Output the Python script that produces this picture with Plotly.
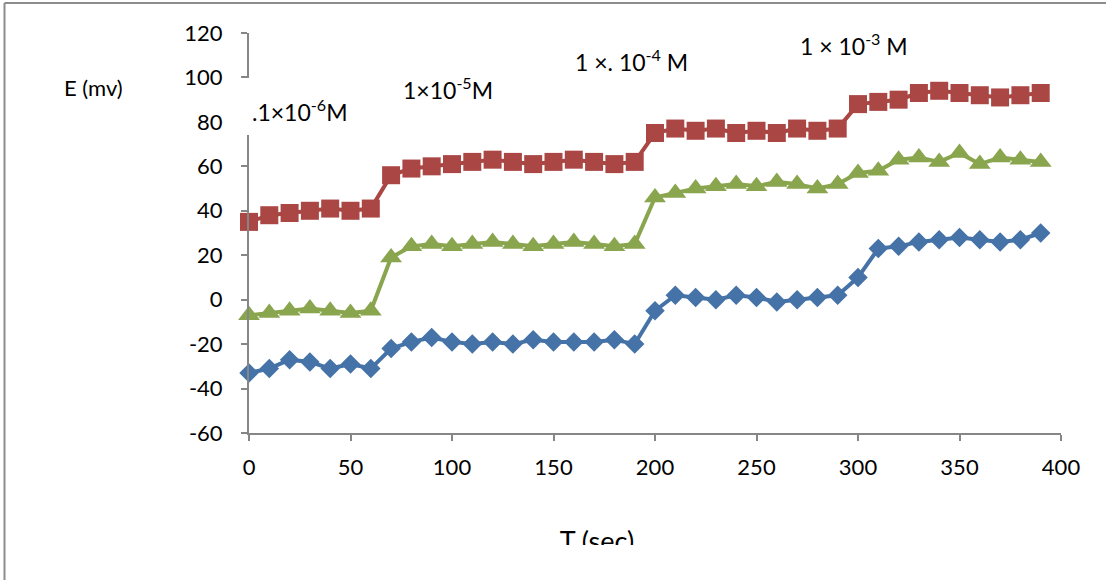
import plotly.graph_objects as go

# ---- data ----
t_sec = [0, 10, 20, 30, 40, 50, 60, 70, 80, 90, 100, 110, 120, 130, 140, 150, 160, 170, 180, 190,
         200, 210, 220, 230, 240, 250, 260, 270, 280, 290, 300, 310, 320, 330, 340, 350, 360, 370, 380, 390]
blue_E = [-33, -31, -27, -28, -31, -29, -31,
          -22, -19, -17, -19, -20, -19, -20, -18, -19, -19, -19, -18, -20,
          -5, 2, 1, 0, 2, 1, -1, 0, 1, 2,
          10, 23, 24, 26, 27, 28, 27, 26, 27, 30]
red_E = [35, 38, 39, 40, 41, 40, 41,
         56, 59, 60, 61, 62, 63, 62, 61, 62, 63, 62, 61, 62,
         75, 77, 76, 77, 75, 76, 75, 77, 76, 77,
         88, 89, 90, 93, 94, 93, 92, 91, 92, 93]
green_E = [-7, -6, -5, -4, -5, -6, -5,
           19, 24, 25, 24, 25, 26, 25, 24, 25, 26, 25, 24, 25,
           46, 48, 50, 51, 52, 51, 53, 52, 50, 52,
           57, 58, 63, 64, 62, 66, 61, 64, 63, 62]

x_ticks = [0, 50, 100, 150, 200, 250, 300, 350, 400]
y_ticks = [-60, -40, -20, 0, 20, 40, 60, 80, 100, 120]
y_tick_text = ["-60", "-40", "-20", "0", "20", "40", "60", "80", "100", "120"]

conc_labels = [".1×10<sup>-6</sup>M", "1×10<sup>-5</sup>M", "1 ×. 10<sup>-4</sup> M", "1 × 10<sup>-3</sup> M"]

BLUE = "#4572A7"
RED = "#AA4643"
GREEN = "#89A54E"
AXC = "#868686"
FONT = "Lato"

# pixel geometry helpers (figure 1106x580, margins l=249 r=45 t=33 b=35)
W, H = 1106, 580
ML, MR, MT, MB = 249, 45, 33, 35
PW = W - ML - MR
PH = H - MT - MB


def px(x):
    return (x - ML) / PW


def py(y):
    return (H - MB - y) / PH


fig = go.Figure()

fig.add_trace(go.Scatter(x=t_sec, y=blue_E, mode="lines+markers", cliponaxis=False,
                         line=dict(color=BLUE, width=4),
                         marker=dict(symbol="diamond", size=15, color=BLUE)))
fig.add_trace(go.Scatter(x=t_sec, y=red_E, mode="lines+markers", cliponaxis=False,
                         line=dict(color=RED, width=4),
                         marker=dict(symbol="square", size=18, color=RED)))
fig.add_trace(go.Scatter(x=t_sec, y=green_E, mode="lines+markers", cliponaxis=False,
                         line=dict(color=GREEN, width=4),
                         marker=dict(symbol="triangle-up", size=19, color=GREEN)))

# x-axis title as clipped text (bottom cut like reference)
fig.add_trace(go.Scatter(x=[(597 - 520) / 160], y=[(545 - 544) / 45], mode="text",
                         text=["T (sec)"], cliponaxis=True,
                         textfont=dict(family=FONT, size=27, color="#000000"),
                         xaxis="x2", yaxis="y2", hoverinfo="skip"))

fig.update_layout(
    width=W, height=H,
    margin=dict(l=ML, r=MR, t=MT, b=MB, pad=0),
    paper_bgcolor="white", plot_bgcolor="white",
    showlegend=False,
    font=dict(family=FONT, size=20, color="#000000"),
    xaxis=dict(range=[0, 400], tickvals=x_ticks, showgrid=False, zeroline=False,
               showline=True, linecolor=AXC, linewidth=2, ticks="outside", ticklen=6,
               tickcolor=AXC, tickwidth=2, ticklabelstandoff=8,
               tickfont=dict(family=FONT, size=22), anchor="y"),
    yaxis=dict(range=[-60, 120], tickvals=y_ticks, ticktext=y_tick_text,
               showgrid=False, zeroline=False,
               domain=[py(433), 1],
               showline=True, linecolor=AXC, linewidth=2, ticks="outside", ticklen=6,
               tickcolor=AXC, tickwidth=2, ticklabelstandoff=14,
               tickfont=dict(family=FONT, size=22), anchor="x"),
    xaxis2=dict(range=[0, 1], domain=[px(520), px(680)], visible=False, anchor="y2",
                fixedrange=True),
    yaxis2=dict(range=[0, 1], domain=[0, py(500)], visible=False, anchor="x2",
                fixedrange=True),
)

# outer border (top and left)
fig.add_shape(type="line", xref="paper", yref="paper", x0=px(4.5), x1=px(1110), y0=py(3), y1=py(3),
              line=dict(color="#8C8C8C", width=2), layer="above")
fig.add_shape(type="line", xref="paper", yref="paper", x0=px(4.5), x1=px(4.5), y0=py(3), y1=py(600),
              line=dict(color="#8C8C8C", width=2), layer="above")

# white text-box behind first label, hiding part of the y axis
fig.add_shape(type="rect", xref="paper", yref="paper", x0=px(238), x1=px(355), y0=py(135), y1=py(78),
              fillcolor="white", line=dict(width=0), layer="above")

fig.add_annotation(text="E (mv)", xref="paper", yref="paper", x=px(93), y=py(87),
                   xanchor="center", yanchor="middle",
                   showarrow=False, font=dict(family=FONT, size=22, color="#000000"))

label_x = [299, 448, 631, 854]
label_y = [110, 88, 60, 44]
for txt, lx, ly in zip(conc_labels, label_x, label_y):
    fig.add_annotation(text=txt, xref="paper", yref="paper", x=px(lx), y=py(ly),
                       xanchor="center", yanchor="middle",
                       showarrow=False, font=dict(family=FONT, size=23, color="#000000"))

fig.write_html("out.html", config={"displayModeBar": False},
               post_script="document.body.style.margin='0';")
